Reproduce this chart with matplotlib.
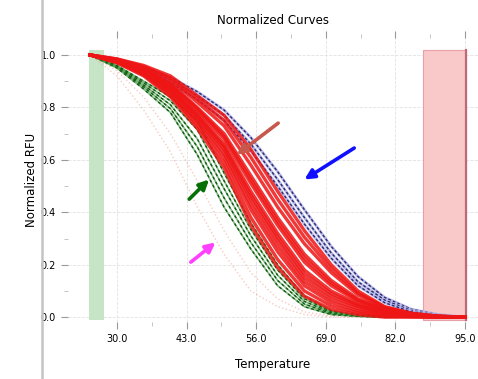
import matplotlib
matplotlib.use("Agg")
import matplotlib.pyplot as plt
from matplotlib.patches import Rectangle
from matplotlib.lines import Line2D

# temperature grid the curves are read at
temps = [25, 30, 35, 40, 45, 50, 55, 60, 65, 70, 75, 80, 85, 90, 95]

# blue / navy curves (right-most group)
blue_curves = [
    [1.00, 0.985, 0.955, 0.915, 0.86, 0.79, 0.685, 0.555, 0.41, 0.27, 0.155, 0.075, 0.03, 0.01, 0.0],
    [1.00, 0.983, 0.950, 0.905, 0.845, 0.77, 0.66, 0.525, 0.38, 0.245, 0.135, 0.065, 0.025, 0.008, 0.0],
    [1.00, 0.980, 0.945, 0.895, 0.83, 0.75, 0.635, 0.50, 0.355, 0.225, 0.12, 0.055, 0.02, 0.006, 0.0],
]

# red curves (dense middle band)
red_curves = [
    [1.0, 0.970, 0.920, 0.840, 0.720, 0.57, 0.35, 0.19, 0.08, 0.03, 0.01, 0.0, 0.0, 0.0, 0.0],
    [1.0, 0.972, 0.924, 0.848, 0.733, 0.59, 0.38, 0.22, 0.10, 0.043, 0.017, 0.005, 0.002, 0.0, 0.0],
    [1.0, 0.973, 0.928, 0.856, 0.745, 0.61, 0.41, 0.25, 0.12, 0.056, 0.024, 0.008, 0.003, 0.001, 0.0],
    [1.0, 0.974, 0.931, 0.862, 0.755, 0.625, 0.43, 0.27, 0.135, 0.068, 0.032, 0.012, 0.004, 0.001, 0.0],
    [1.0, 0.975, 0.934, 0.868, 0.764, 0.64, 0.45, 0.29, 0.15, 0.08, 0.04, 0.015, 0.005, 0.001, 0.0],
    [1.0, 0.976, 0.936, 0.872, 0.770, 0.65, 0.465, 0.305, 0.165, 0.09, 0.045, 0.018, 0.006, 0.002, 0.0],
    [1.0, 0.977, 0.938, 0.876, 0.776, 0.66, 0.48, 0.32, 0.18, 0.10, 0.05, 0.02, 0.007, 0.002, 0.0],
    [1.0, 0.979, 0.942, 0.884, 0.789, 0.68, 0.51, 0.35, 0.21, 0.12, 0.06, 0.025, 0.008, 0.002, 0.0],
    [1.0, 0.980, 0.944, 0.888, 0.795, 0.69, 0.525, 0.365, 0.225, 0.13, 0.065, 0.028, 0.009, 0.003, 0.0],
    [1.0, 0.980, 0.946, 0.892, 0.800, 0.70, 0.54, 0.38, 0.24, 0.14, 0.07, 0.03, 0.01, 0.003, 0.0],
    [1.0, 0.982, 0.952, 0.904, 0.820, 0.73, 0.58, 0.42, 0.28, 0.17, 0.085, 0.035, 0.012, 0.003, 0.0],
    [1.0, 0.984, 0.956, 0.912, 0.833, 0.75, 0.61, 0.45, 0.305, 0.185, 0.092, 0.038, 0.014, 0.004, 0.0],
    [1.0, 0.985, 0.960, 0.920, 0.845, 0.77, 0.64, 0.48, 0.33, 0.20, 0.10, 0.04, 0.015, 0.004, 0.0],
]

# green curves (left of the red band)
green_curves = [
    [1.0, 0.950, 0.870, 0.780, 0.620, 0.42, 0.26, 0.12, 0.04, 0.01, 0.003, 0.0, 0.0, 0.0, 0.0],
    [1.0, 0.953, 0.878, 0.795, 0.650, 0.455, 0.285, 0.14, 0.05, 0.014, 0.004, 0.001, 0.0, 0.0, 0.0],
    [1.0, 0.955, 0.885, 0.810, 0.680, 0.49, 0.31, 0.16, 0.06, 0.018, 0.005, 0.001, 0.0, 0.0, 0.0],
    [1.0, 0.958, 0.893, 0.825, 0.715, 0.52, 0.335, 0.18, 0.07, 0.022, 0.007, 0.002, 0.0, 0.0, 0.0],
    [1.0, 0.960, 0.900, 0.840, 0.750, 0.55, 0.36, 0.20, 0.08, 0.025, 0.008, 0.002, 0.0, 0.0, 0.0],
]

# faint pink curves (left-most)
pink_curves = [
    [1.0, 0.92, 0.79, 0.63, 0.42, 0.24, 0.10, 0.04, 0.01, 0.0, 0.0, 0.0, 0.0, 0.0, 0.0],
    [1.0, 0.94, 0.84, 0.70, 0.52, 0.33, 0.17, 0.07, 0.02, 0.005, 0.0, 0.0, 0.0, 0.0, 0.0],
]

green_span = (24.8, 27.6)
red_span = (87.2, 95.2)
span_top = 1.02

xticks = [30, 43, 56, 69, 82, 95]
yticks = [0.0, 0.2, 0.4, 0.6, 0.8, 1.0]

# arrows: (tail, head) in data coords
arrows = {
    "#c8574c": ((60.1, 0.74), (52.4, 0.62)),
    "#1010ff": ((74.3, 0.645), (65.0, 0.525)),
    "#067006": ((43.5, 0.45), (47.2, 0.525)),
    "#ff40ff": ((43.8, 0.21), (48.4, 0.285)),
}

fig = plt.figure(figsize=(4.78, 3.79), dpi=100)
ax = fig.add_axes([0.142, 0.150, 0.858, 0.750])

ax.add_patch(Rectangle((green_span[0], -0.01), green_span[1] - green_span[0], span_top + 0.01,
                       facecolor="#c6e4c6", edgecolor="none", zorder=1))
ax.add_patch(Rectangle((red_span[0], -0.01), red_span[1] - red_span[0], span_top + 0.01,
                       facecolor="#f9c9c9", edgecolor="#e8a0a8", lw=0.8, zorder=1))
ax.plot([red_span[1], red_span[1]], [-0.01, span_top], color="#c06878", lw=1.6, zorder=2)

for ys in pink_curves:
    ax.plot(temps, ys, color="#f0a090", lw=1.0, ls=":", alpha=0.55, zorder=2)
for ys in green_curves:
    ax.plot(temps, ys, color="#4a9a4a", lw=1.2, alpha=0.7, zorder=3)
    ax.plot(temps, ys, color="#105a10", lw=1.0, ls=(0, (2, 2)), zorder=3)
for ys in red_curves:
    ax.plot(temps, ys, color="#ee1515", lw=2.4, alpha=0.85, zorder=4)
for ys in blue_curves:
    ax.plot(temps, ys, color="#b8b8e8", lw=2.0, zorder=3)
    ax.plot(temps, ys, color="#2a2a70", lw=1.0, ls=(0, (2, 1.5)), zorder=3)

for col, (tail, head) in arrows.items():
    ax.annotate("", xy=head, xytext=tail,
                arrowprops=dict(arrowstyle="-|>", color=col, lw=2.6, mutation_scale=14,
                                shrinkA=0, shrinkB=0), zorder=6)

ax.set_xlim(20.85, 97.4)
ax.set_ylim(-0.019, 1.065)
ax.set_xticks(xticks)
ax.set_xticklabels([f"{t:.1f}" for t in xticks])
ax.set_yticks(yticks)
ax.set_yticklabels([f"{v:.1f}" for v in yticks])
ax.set_yticks([0.1, 0.3, 0.5, 0.7, 0.9], minor=True)
ax.set_xticks([36.5, 49.5, 62.5, 75.5, 88.5], minor=True)
ax.tick_params(labelsize=7, length=5, color="#999999", top=True)
ax.tick_params(which="minor", length=3, color="#bbbbbb", top=True)
ax.grid(True, color="#e2e2e2", ls="--", lw=0.6)
ax.set_axisbelow(True)
for s in ax.spines.values():
    s.set_visible(False)

ax.set_title("Normalized Curves", fontsize=8.5, pad=10)
ax.set_xlabel("Temperature", fontsize=8.5, labelpad=10)
ax.set_ylabel("Normalized RFU", fontsize=8.5, labelpad=2)

fig.add_artist(Line2D([42 / 478, 42 / 478], [0, 1], color="#c4c4c4", lw=1.8))

fig.savefig("out.png", dpi=100)
